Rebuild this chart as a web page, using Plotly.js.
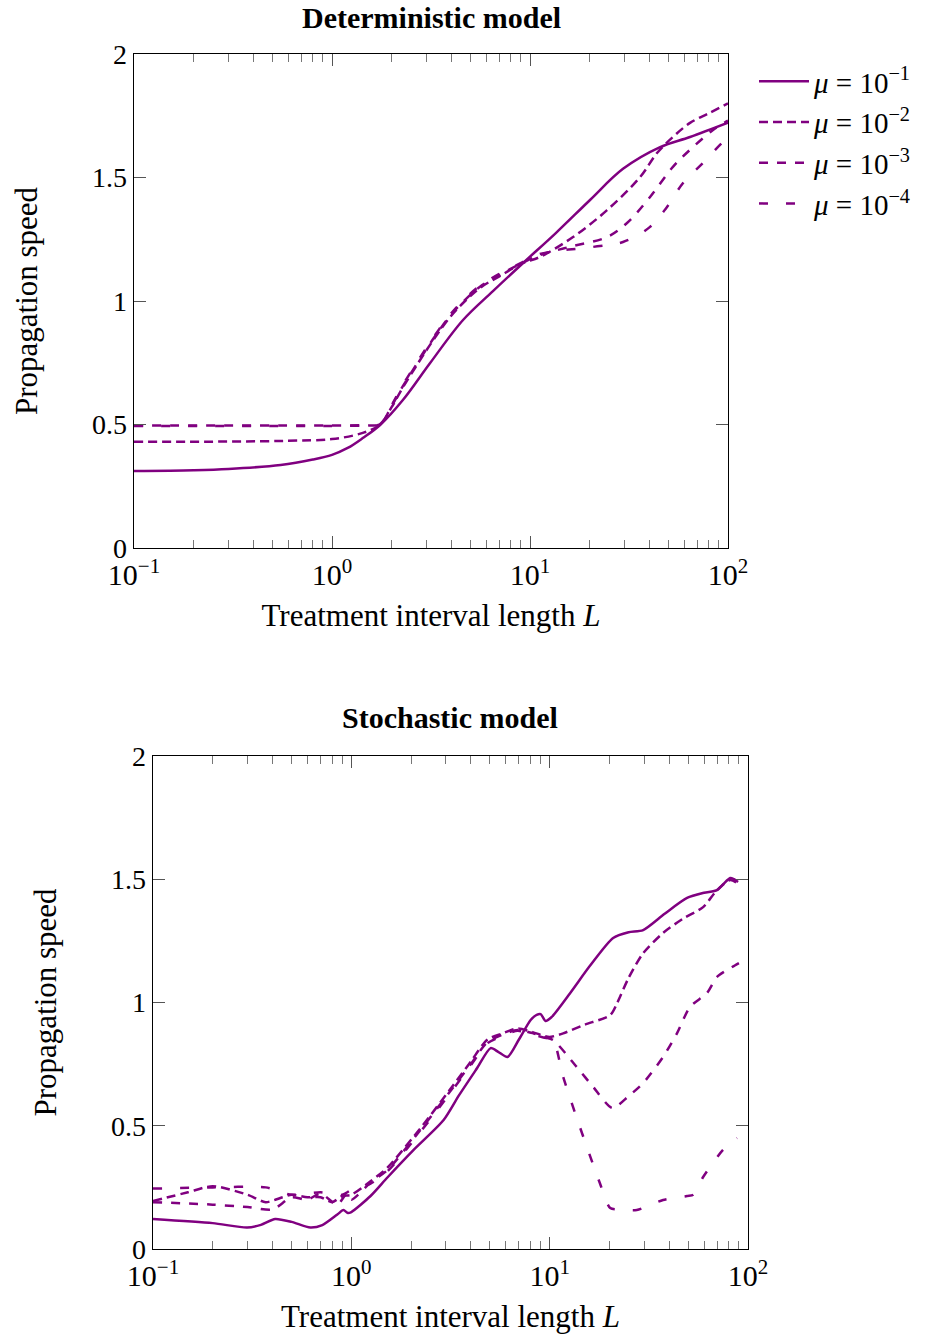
<!DOCTYPE html>
<html>
<head>
<meta charset="utf-8">
<script src="https://cdn.plot.ly/plotly-3.0.1.min.js"></script>
<style>html,body{margin:0;padding:0;background:#fff;}#chart{width:945px;height:1336px;}</style>
</head>
<body>
<div id="chart"></div>
<script>
// ---------- Deterministic model ----------
const detL_mu1 = [0.1, 0.2, 0.3, 0.55, 0.8, 1.0, 1.2, 1.43, 1.75, 2.28, 3.13, 4.59, 6.5, 9.23, 13.5, 20.1, 29.5, 45.4, 64.3, 100];
const detV_mu1 = [0.312, 0.315, 0.320, 0.336, 0.358, 0.377, 0.405, 0.445, 0.498, 0.599, 0.749, 0.923, 1.040, 1.154, 1.275, 1.409, 1.535, 1.623, 1.664, 1.722];

const detL_mu2 = [0.1, 0.3, 0.6, 1.0, 1.43, 1.75, 2.0, 2.28, 2.78, 3.3, 3.95, 4.7, 5.59, 7.0, 9.23, 11.2, 16.5, 24.5, 36, 43.8, 52.7, 64.3, 80, 100];
const detV_mu2 = [0.430, 0.431, 0.434, 0.441, 0.466, 0.500, 0.570, 0.650, 0.760, 0.850, 0.935, 1.000, 1.053, 1.100, 1.154, 1.178, 1.259, 1.368, 1.502, 1.599, 1.664, 1.721, 1.760, 1.800];

const detL_mu3 = [0.1, 0.3, 0.6, 1.0, 1.43, 1.75, 2.0, 2.28, 2.78, 3.3, 3.95, 4.7, 5.59, 7.0, 9.23, 11.2, 16, 24.5, 30.9, 40.4, 52.7, 66.5, 84, 100];
const detV_mu3 = [0.496, 0.496, 0.496, 0.496, 0.497, 0.502, 0.575, 0.655, 0.765, 0.855, 0.940, 1.005, 1.058, 1.105, 1.156, 1.186, 1.220, 1.259, 1.316, 1.421, 1.543, 1.623, 1.692, 1.730];

const detL_mu4 = [0.1, 0.3, 0.6, 1.0, 1.43, 1.75, 2.0, 2.28, 2.78, 3.3, 3.95, 4.7, 5.59, 7.0, 9.23, 11.2, 20.8, 29.5, 40.4, 49.2, 59.3, 74.8, 93.3, 100];
const detV_mu4 = [0.494, 0.494, 0.494, 0.494, 0.496, 0.502, 0.578, 0.660, 0.770, 0.860, 0.945, 1.010, 1.062, 1.110, 1.158, 1.190, 1.219, 1.239, 1.300, 1.381, 1.478, 1.559, 1.640, 1.660];

// ---------- Stochastic model ----------
const stoL_mu1 = [0.1, 0.2, 0.298, 0.35, 0.413, 0.5, 0.621, 0.714, 0.85, 0.912, 0.96, 1.0, 1.25, 1.52, 2.05, 2.92, 3.5, 4.3, 5.04, 5.5, 6.13, 7.0, 8.02, 8.6, 9.01, 9.53, 10.2, 12.7, 16, 20.9, 25, 29.6, 38, 49.3, 60, 69.8, 75, 81.3, 85, 89.1];
const stoV_mu1 = [0.122, 0.105, 0.087, 0.098, 0.122, 0.110, 0.087, 0.097, 0.140, 0.158, 0.146, 0.150, 0.215, 0.290, 0.400, 0.523, 0.625, 0.733, 0.815, 0.800, 0.779, 0.850, 0.929, 0.950, 0.953, 0.925, 0.940, 1.039, 1.150, 1.262, 1.285, 1.294, 1.360, 1.424, 1.445, 1.456, 1.480, 1.505, 1.500, 1.489];

const stoL_mu2 = [0.1, 0.15, 0.2, 0.3, 0.37, 0.45, 0.5, 0.6, 0.7, 0.8, 0.9, 1.0, 1.25, 1.52, 2.23, 3.27, 4.0, 4.86, 5.8, 6.89, 8.2, 9.3, 10, 11.7, 15, 20.2, 21.9, 25, 29.6, 37.3, 47, 59.4, 69.8, 81.3, 90];
const stoV_mu2 = [0.195, 0.230, 0.255, 0.220, 0.190, 0.210, 0.220, 0.210, 0.210, 0.190, 0.215, 0.220, 0.275, 0.330, 0.490, 0.665, 0.760, 0.850, 0.875, 0.895, 0.880, 0.865, 0.860, 0.875, 0.910, 0.949, 0.998, 1.100, 1.200, 1.282, 1.340, 1.387, 1.456, 1.497, 1.480];

const stoL_mu3 = [0.1, 0.2, 0.3, 0.4, 0.5, 0.6, 0.7, 0.85, 0.95, 1.0, 1.25, 1.52, 2.23, 3.27, 4.0, 4.86, 5.8, 6.89, 8.2, 9.3, 10.4, 13.7, 16.6, 20.7, 25, 29.6, 37.3, 43.9, 51, 62.2, 69.8, 83.2, 90];
const stoV_mu3 = [0.190, 0.180, 0.170, 0.160, 0.210, 0.200, 0.225, 0.180, 0.225, 0.200, 0.270, 0.320, 0.483, 0.657, 0.750, 0.840, 0.870, 0.888, 0.876, 0.860, 0.848, 0.738, 0.657, 0.572, 0.620, 0.673, 0.779, 0.876, 0.982, 1.039, 1.104, 1.144, 1.160];

const stoL_mu4 = [0.1, 0.2, 0.37, 0.5, 0.7, 0.9, 1.0, 1.25, 1.52, 2.23, 3.27, 4.0, 4.86, 5.8, 6.89, 8.2, 9.3, 10.4, 11.7, 14.2, 17.9, 20.2, 23, 27.5, 37.3, 49.3, 53, 59.4, 74.8, 88];
const stoV_mu4 = [0.245, 0.250, 0.250, 0.220, 0.230, 0.220, 0.240, 0.265, 0.315, 0.475, 0.650, 0.745, 0.835, 0.865, 0.885, 0.870, 0.858, 0.848, 0.698, 0.495, 0.268, 0.166, 0.160, 0.158, 0.199, 0.215, 0.220, 0.292, 0.402, 0.450];

const seriesNames = ['<i>μ</i> = 10<sup>−1</sup>', '<i>μ</i> = 10<sup>−2</sup>', '<i>μ</i> = 10<sup>−3</sup>', '<i>μ</i> = 10<sup>−4</sup>'];
const xTickVals = [0.1, 1, 10, 100];
const xTickText = ['10<sup>−1</sup>', '10<sup>0</sup>', '10<sup>1</sup>', '10<sup>2</sup>'];
const yTickVals = [0, 0.5, 1, 1.5, 2];
const yTickText = ['0', '0.5', '1', '1.5', '2'];
const minorVals = [0.2,0.3,0.4,0.5,0.6,0.7,0.8,0.9,2,3,4,5,6,7,8,9,20,30,40,50,60,70,80,90];

const purple = '#800080';
const dashes = ['solid', '9px,5px', '9px,9px', '9px,18px'];
const FONT = 'Liberation Serif, Times New Roman, serif';

const detX = [detL_mu1, detL_mu2, detL_mu3, detL_mu4];
const detY = [detV_mu1, detV_mu2, detV_mu3, detV_mu4];
const stoX = [stoL_mu1, stoL_mu2, stoL_mu3, stoL_mu4];
const stoY = [stoV_mu1, stoV_mu2, stoV_mu3, stoV_mu4];

const traces = [];
for (let i = 0; i < 4; i++) {
  traces.push({
    x: detX[i], y: detY[i], type: 'scatter', mode: 'lines', name: seriesNames[i],
    xaxis: 'x', yaxis: 'y', legendgroup: 'g' + i,
    line: {color: purple, width: 2.5, dash: dashes[i], shape: 'spline', smoothing: 1}
  });
}
for (let i = 0; i < 4; i++) {
  traces.push({
    x: stoX[i], y: stoY[i], type: 'scatter', mode: 'lines', name: seriesNames[i],
    xaxis: 'x2', yaxis: 'y2', legendgroup: 'g' + i, showlegend: false,
    line: {color: purple, width: 2.5, dash: dashes[i], shape: 'spline', smoothing: 0.7}
  });
}

function xax(domain, anchor) {
  return {
    type: 'log', range: [-1, 2], domain: domain, anchor: anchor,
    showgrid: false, zeroline: false, showline: true, linecolor: '#000', linewidth: 1.3, mirror: 'allticks',
    ticks: 'inside', ticklen: 12, tickwidth: 1, tickcolor: '#555',
    tickmode: 'array', tickvals: xTickVals, ticktext: xTickText,
    tickfont: {family: FONT, size: 30, color: '#000'},
    minor: {ticks: 'inside', ticklen: 8, tickwidth: 1, tickcolor: '#777', tickmode: 'array', tickvals: minorVals, showgrid: false},
    title: {text: 'Treatment interval length <i>L</i>', font: {family: FONT, size: 31, color: '#000'}, standoff: 14},
    automargin: false
  };
}
function yax(domain, anchor) {
  return {
    range: [0, 2], domain: domain, anchor: anchor,
    showgrid: false, zeroline: false, showline: true, linecolor: '#000', linewidth: 1.3, mirror: 'allticks',
    ticks: 'inside', ticklen: 12, tickwidth: 1, tickcolor: '#555',
    tickmode: 'array', tickvals: yTickVals, ticktext: yTickText,
    tickfont: {family: FONT, size: 28, color: '#000'},
    title: {text: 'Propagation speed', font: {family: FONT, size: 31, color: '#000'}, standoff: 45},
    automargin: false
  };
}

const W = 945, H = 1336;
const layout = {
  width: W, height: H,
  margin: {l: 0, r: 0, t: 0, b: 0},
  paper_bgcolor: '#fff', plot_bgcolor: '#fff',
  font: {family: FONT, size: 28, color: '#000'},
  showlegend: true,
  legend: {
    x: 754 / W, y: 1 - 56 / H, xanchor: 'left', yanchor: 'top',
    font: {family: FONT, size: 29, color: '#000'},
    bgcolor: 'rgba(0,0,0,0)', borderwidth: 0, itemwidth: 50, tracegroupgap: 0
  },
  xaxis: xax([134 / W, 728 / W], 'y'),
  yaxis: yax([1 - 548 / H, 1 - 54 / H], 'x'),
  xaxis2: xax([153 / W, 748 / W], 'y2'),
  yaxis2: yax([1 - 1249 / H, 1 - 756 / H], 'x2'),
  annotations: [
    {text: '<b>Deterministic model</b>', xref: 'paper', yref: 'paper', x: 431 / W, y: 1 - 18 / H,
     xanchor: 'center', yanchor: 'middle', showarrow: false, font: {family: FONT, size: 30, color: '#000'}},
    {text: '<b>Stochastic model</b>', xref: 'paper', yref: 'paper', x: 450 / W, y: 1 - 717 / H,
     xanchor: 'center', yanchor: 'middle', showarrow: false, font: {family: FONT, size: 30, color: '#000'}}
  ]
};

Plotly.newPlot('chart', traces, layout, {staticPlot: true, displayModeBar: false});
</script>
</body>
</html>
